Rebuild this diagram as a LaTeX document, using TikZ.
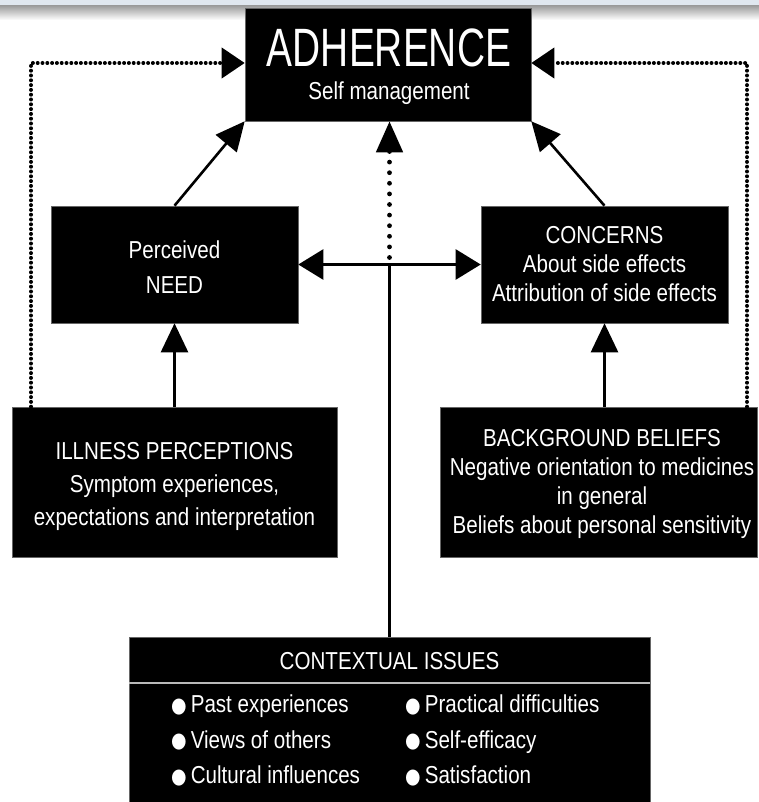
\documentclass[tikz,border=0pt]{standalone}
\usepackage{fontspec}
\setmainfont{Liberation Sans}
\newfontfamily\bodyfont[FakeStretch=0.84]{Liberation Sans}
\newfontfamily\titlefont[FakeStretch=0.72]{Liberation Sans}
\newfontfamily\dotfont[FakeStretch=0.85]{DejaVu Sans}
\usetikzlibrary{arrows.meta,calc}
\definecolor{topband}{RGB}{224,231,239}
\newcommand{\bul}{\raisebox{0.5pt}{\dotfont\fontsize{21}{21}\selectfont ●}\hspace{4pt}}

\begin{document}
\begin{tikzpicture}[x=1pt,y=-1pt,
  blackbox/.style={fill=black, draw=black!60, line width=0.6pt, inner sep=0pt},
  boxtext/.style={text=white, align=center, inner sep=0pt,
    font=\bodyfont\fontsize{24.5}{29}\selectfont},
  link/.style={line width=2.6pt, -{Triangle[length=29pt,width=27pt]}},
  hlink/.style={line width=2.6pt, -{Triangle[length=25pt,width=30pt]}},
  dotlink/.style={line width=4pt, dash pattern=on 0pt off 4.8pt, line cap=round,
    -{Triangle[length=23pt,width=30pt]}},
  centredots/.style={line width=4.8pt, dash pattern=on 0pt off 10.6pt, line cap=round,
    -{Triangle[length=31pt,width=26pt]}}
]
\useasboundingbox (0,0) rectangle (759,802);

% header strip and its soft shadow
\fill[topband] (0,0) rectangle (759,6);
\shade[top color=gray!75, bottom color=white] (0,6) rectangle (759,20);

% boxes
\node[blackbox, minimum width=286pt, minimum height=113pt] (adh)  at (388,64.5) {};
\node[blackbox, minimum width=247pt, minimum height=117pt] (need) at (174.5,264.5) {};
\node[blackbox, minimum width=247pt, minimum height=117pt] (conc) at (604.5,264.5) {};
\node[blackbox, minimum width=325pt, minimum height=150pt] (ill)  at (174.5,482) {};
\node[blackbox, minimum width=317pt, minimum height=150pt] (bg)   at (598.5,482) {};
\node[blackbox, minimum width=521pt, minimum height=166pt] (ctx)  at (389.5,720) {};

% box texts
\node[boxtext] (adhtitle) at (389,48) {\titlefont\fontsize{54}{54}\selectfont ADHERENCE};
\node[boxtext] (adhsub) at (389,93) {Self management};
\node[boxtext, font=\bodyfont\fontsize{24.5}{35}\selectfont] (needtext) at (174.5,267) {Perceived\\NEED};
\node[boxtext] (conctext) at (604.5,264) {CONCERNS\\About side effects\\Attribution of side effects};
\node[boxtext, font=\bodyfont\fontsize{24.5}{33}\selectfont] (illtext) at (174.5,486)
  {ILLNESS PERCEPTIONS\\Symptom experiences,\\expectations and interpretation};
\node[boxtext] (bgtext) at (602,483.5)
  {BACKGROUND BELIEFS\\Negative orientation to medicines\\in general\\Beliefs about personal sensitivity};
\node[boxtext] (ctxhead) at (389.5,661) {CONTEXTUAL ISSUES};
\node[boxtext, align=left, anchor=west, font=\bodyfont\fontsize{24.5}{35.5}\selectfont] (ctxleft) at (171,740.5)
  {\bul Past experiences\\\bul Views of others\\\bul Cultural influences};
\node[boxtext, align=left, anchor=west, font=\bodyfont\fontsize{24.5}{35.5}\selectfont] (ctxright) at (405,740.5)
  {\bul Practical difficulties\\\bul Self-efficacy\\\bul Satisfaction};

% header rule inside the contextual box
\draw[gray!55, line width=2pt] ($(ctx.north west)+(0,46)$) -- ($(ctx.north east)+(0,46)$);

% helper points
\coordinate (j) at (ctx.north |- need.east);
\coordinate (lc) at (31,63);
\coordinate (rc) at (747,63);

% solid connectors
\draw[link] (need.north) -- (adh.south west);
\draw[link] (conc.north) -- (adh.south east);
\draw[link] (ill.north) -- (need.south);
\draw[link] (bg.north -| conc.south) -- (conc.south);
\draw[line width=2.6pt] (ctx.north) -- (j);
\draw[hlink] (j) -- (need.east);
\draw[hlink] (j) -- (conc.west);

% dotted connectors
\draw[centredots] ($(j)+(0,-7)$) -- (adh.south -| j);
\draw[dotlink] (ill.north -| lc) -- (lc) -- (adh.west |- lc);
\draw[dotlink] (bg.north -| rc) -- (rc) -- (adh.east |- rc);
\end{tikzpicture}
\end{document}
